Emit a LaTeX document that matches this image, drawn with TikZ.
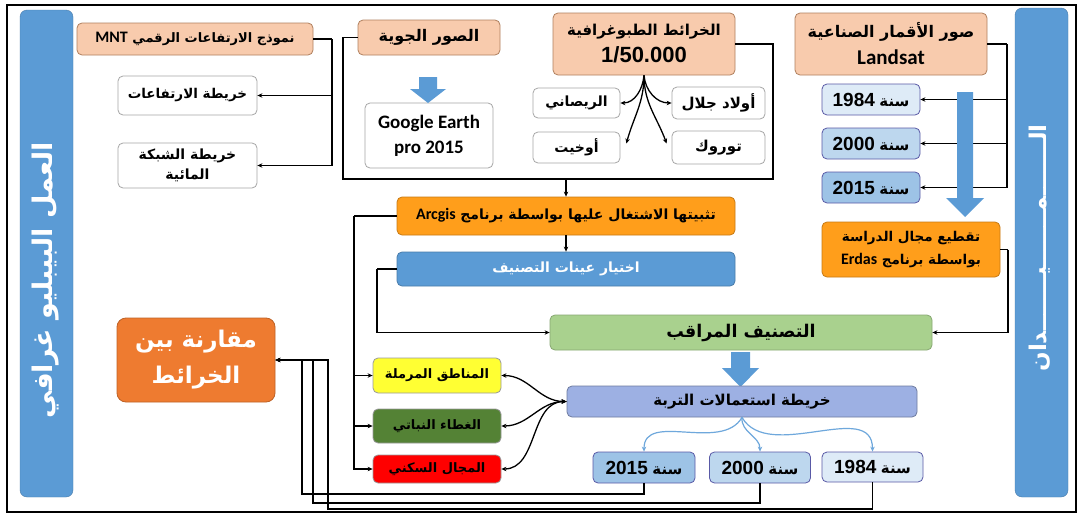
\documentclass[tikz,border=0pt]{standalone}
\usepackage{fontspec}
\usetikzlibrary{arrows.meta,calc}
\TeXXeTstate=1
\newfontfamily\arfont[Script=Arabic]{DejaVu Sans}
\newfontfamily\latfont{Liberation Sans}
\newfontfamily\calfont{Carlito}
\newcommand\AR[2][15]{{\fontsize{#1}{\baselineskip}\arfont\bfseries\beginR #2\endR}}
\newcommand\LA[2][19]{{\fontsize{#1}{\baselineskip}\latfont\bfseries #2}}
\newcommand\CA[2][18]{{\fontsize{#1}{\baselineskip}\calfont\bfseries #2}}
\definecolor{salm}{HTML}{F8CBAD}
\definecolor{salmd}{HTML}{B0805E}
\definecolor{orng}{HTML}{FF9E1B}
\definecolor{orngd}{HTML}{C77A14}
\definecolor{bbar}{HTML}{5B9BD5}
\definecolor{grn}{HTML}{A9D18E}
\definecolor{lav}{HTML}{9DB0E3}
\definecolor{ylw}{HTML}{FFFF33}
\definecolor{dgrn}{HTML}{548235}
\definecolor{rd}{HTML}{FF0000}
\definecolor{yA}{HTML}{DEEBF7}
\definecolor{yB}{HTML}{BDD7EE}
\definecolor{yC}{HTML}{9DC3E6}
\definecolor{cmpc}{HTML}{EE7B30}
\definecolor{lblue}{HTML}{6FA8DC}
\tikzset{
  x=1pt,y=-1pt,
  bx/.style={rounded corners=5pt, draw=gray!80, line width=0.8pt, inner sep=0pt, align=center,
             text=black, font=\fontsize{15}{20}\selectfont},
  sal/.style={bx, fill=salm, draw=salmd},
  wht/.style={bx, fill=white, draw=gray!70},
  org/.style={bx, fill=orng, draw=orngd},
  yr/.style={bx, draw=gray!70!blue},
  arr/.style={line width=1.3pt, -{Stealth[length=5pt,width=4.5pt]}},
  darr/.style={line width=1.3pt, {Stealth[length=5pt,width=4.5pt]}-{Stealth[length=5pt,width=4.5pt]}},
  ln/.style={line width=1.3pt},
  barr/.style={line width=1.2pt, draw=lblue, -{Stealth[length=5pt,width=4.5pt]}},
  blk/.style={fill=bbar},
}
\begin{document}
\begin{tikzpicture}
\useasboundingbox (0,0) rectangle (1080,514);
\fill[white] (0,0) rectangle (1080,514);
\draw[line width=2pt] (7,5) rectangle (1076,512);

% side bars
\node[rounded corners=7pt, fill=bbar, draw=bbar!80!black, minimum width=53, minimum height=487, inner sep=0] (lbar) at (46.5,253.5) {};
\node[rounded corners=7pt, fill=bbar, draw=bbar!80!black, minimum width=53, minimum height=489, inner sep=0] (rbar) at (1041.5,252.5) {};
\node[rotate=90, text=white] (ltxt) at (46,280) {\AR[27]{العمل البيبليو غرافي}};
\node[rotate=90, text=white] (rtxt) at (1040,248) {\AR[23]{الـــــــمـــــــيـــــــدان}};

% top left
\node[sal, minimum width=236, minimum height=32] (mnt) at (195,39) {\CA[16]{MNT} \AR[13]{نموذج الارتفاعات الرقمي}};
\node[wht, minimum width=139, minimum height=39] (elev) at (187.5,95.5) {\AR[13.5]{خريطة الارتفاعات}};
\node[wht, minimum width=139, minimum height=45, font=\fontsize{14}{20}\selectfont] (hydro) at (187.5,165.5) {\AR[14]{خريطة الشبكة}\\\AR[14]{المائية}};
\coordinate (mj) at (332,39);
\draw[ln] (mnt.east) -- (mj);
\draw[arr] (mj) |- (hydro.east);
\draw[arr] (mj |- elev) -- (elev.east);

% aerial
\node[sal, minimum width=142, minimum height=35] (aer) at (429,37.5) {\AR[16]{الصور الجوية}};
\node[wht, minimum width=128, minimum height=65, font=\fontsize{19}{25}\selectfont] (gE) at (429,135.5) {\CA[19]{Google Earth}\\\CA[19]{pro 2015}};
\fill[blk] (419,77) -- (437,77) -- (437,89) -- (446,89) -- (428,103) -- (410,89) -- (419,89) -- cycle;

% topo
\node[sal, minimum width=182, minimum height=62, font=\fontsize{15}{27}\selectfont] (topo) at (644,44) {\AR[15]{الخرائط الطبوغرافية}\\\LA[22]{1/50.000}};
\node[wht, minimum width=87, minimum height=30] (ris) at (576.5,103) {\AR[14]{الريصاني}};
\node[wht, minimum width=87, minimum height=31] (ouk) at (576.5,147.5) {\AR[14]{أوخيت}};
\node[wht, minimum width=93, minimum height=32] (oul) at (718.5,103) {\AR[15]{أولاد جلال}};
\node[wht, minimum width=93, minimum height=33] (tor) at (718.5,147.5) {\AR[15]{توروك}};
\draw[arr] (topo.south) to[out=-95,in=0] (ris.east);
\draw[arr] (topo.south) to[out=-90,in=75] ($(ouk.east)+(6,-4)$);
\draw[arr] (topo.south) to[out=-85,in=180] (oul.west);
\draw[arr] (topo.south) to[out=-90,in=110] ($(tor.west)+(-5,-4)$);

% landsat
\node[sal, minimum width=192, minimum height=62, font=\fontsize{15}{27}\selectfont] (land) at (891,44) {\AR[16]{صور الأقمار الصناعية}\\\CA[21]{Landsat}};
\node[yr, fill=yA, minimum width=98, minimum height=31] (ya84) at (871,99.5) {\LA{1984} \AR[15]{سنة}};
\node[yr, fill=yB, minimum width=98, minimum height=31] (ya00) at (871,143.5) {\LA{2000} \AR[15]{سنة}};
\node[yr, fill=yC, minimum width=98, minimum height=31] (ya15) at (871,187.5) {\LA{2015} \AR[15]{سنة}};
\coordinate (lj) at (1007,44);
\draw[ln] (land.east) -- (lj);
\draw[arr] (lj) |- (ya15.east);
\draw[arr] (lj |- ya84) -- (ya84.east);
\draw[arr] (lj |- ya00) -- (ya00.east);
\fill[blk] (957,92) -- (973,92) -- (973,198) -- (984,198) -- (965,217) -- (946,198) -- (957,198) -- cycle;

% top bus
\coordinate (busL) at (343,179);
\coordinate (busR) at (773,179);
\draw[ln] (aer.west) -| (busL) -- (busR) |- (topo.east);

% middle
\node[org, minimum width=338, minimum height=38] (arc) at (566,216) {\CA[16]{Arcgis} \AR[14]{تثبيتها الاشتغال عليها بواسطة برنامج}};
\draw[arr] (arc.north |- busL) -- (arc.north);
\node[bx, fill=bbar, draw=bbar!80!black, text=white, minimum width=338, minimum height=34] (samp) at (566,269) {\AR[14]{اختيار عينات التصنيف}};
\draw[arr] (arc.south) -- (samp.north);
\node[org, minimum width=178, minimum height=55, font=\fontsize{15}{23}\selectfont] (erd) at (911,249.5) {\AR[13.5]{تقطيع مجال الدراسة}\\\CA[16]{Erdas} \AR[13.5]{بواسطة برنامج}};
\node[bx, fill=grn, draw=grn!80!black, minimum width=382, minimum height=35] (cls) at (741,332.5) {\AR[17.5]{التصنيف المراقب}};
\coordinate (ej) at (1008,249.5);
\draw[ln] (erd.east) -- (ej);
\draw[arr] (ej) |- (cls.east);
\coordinate (sj) at (377,269);
\draw[ln] (samp.west) -- (sj);
\draw[arr] (sj) |- (cls.west);
\fill[blk] (731,352) -- (750,352) -- (750,368) -- (759,368) -- (740.5,387) -- (722,368) -- (731,368) -- cycle;

\node[bx, fill=lav, draw=lav!70!black, minimum width=350, minimum height=31] (soil) at (742,401.5) {\AR[15]{خريطة استعمالات التربة}};

% categories
\node[bx, fill=ylw, minimum width=128, minimum height=35] (sand) at (437,375.5) {\AR[13]{المناطق المرملة}};
\node[bx, fill=dgrn, minimum width=128, minimum height=34] (veg) at (437,426) {\AR[13]{الغطاء النباتي}};
\node[bx, fill=rd, minimum width=128, minimum height=28] (urb) at (437,469) {\AR[13]{المجال السكني}};
\coordinate (aj) at (354,216);
\draw[ln] (arc.west) -- (aj);
\draw[arr] (aj) |- (urb.west);
\draw[arr] (aj |- sand) -- (sand.west);
\draw[arr] (aj |- veg) -- (veg.west);
\draw[darr] (soil.west) to[out=180,in=0] (sand.east);
\draw[darr] (soil.west) to[out=180,in=0] (veg.east);
\draw[darr] (soil.west) to[out=180,in=0] (urb.east);

% bottom years
\node[yr, fill=yC, minimum width=102, minimum height=31] (yb15) at (644,467.5) {\LA{2015} \AR[15]{سنة}};
\node[yr, fill=yB, minimum width=101, minimum height=31] (yb00) at (760,467.5) {\LA{2000} \AR[15]{سنة}};
\node[yr, fill=yA, minimum width=101, minimum height=30] (yb84) at (872.5,467) {\LA{1984} \AR[15]{سنة}};
\draw[barr] (soil.south) to[out=-120,in=90] (yb15.north);
\draw[barr] (soil.south) to[out=-95,in=90] (yb00.north);
\draw[barr] (soil.south) to[out=-60,in=90] (yb84.north);

% comparison
\node[bx, fill=cmpc, draw=cmpc!80!black, text=white, rounded corners=9pt, minimum width=158, minimum height=84, font=\fontsize{22}{36}\selectfont] (cmp) at (196,360) {\AR[23]{مقارنة بين}\\\AR[23]{الخرائط}};
\coordinate (k15) at (302,494);
\coordinate (k00) at (313,503);
\coordinate (k84) at (328,509);
\draw[arr] (yb15.south) |- (k15) |- (cmp.east);
\draw[arr] (yb00.south) |- (k00) |- (cmp.east);
\draw[arr] (yb84.south) |- (k84) |- (cmp.east);
\end{tikzpicture}
\end{document}
